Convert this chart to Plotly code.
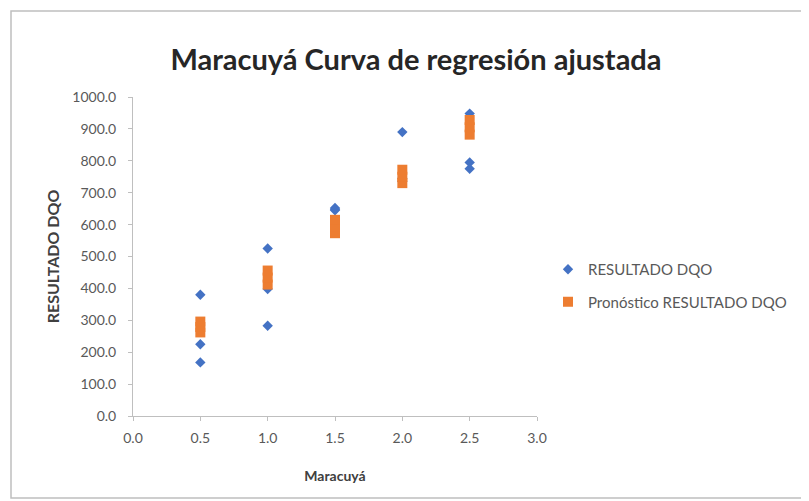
import plotly.graph_objects as go

maracuya_obs = [0.5, 0.5, 0.5, 1.0, 1.0, 1.0, 1.5, 1.5, 1.5, 2.0, 2.0, 2.0, 2.5, 2.5, 2.5]
resultado_dqo = [380, 225, 168, 525, 398, 283, 652, 648, 645, 890, 745, 735, 948, 795, 775]

maracuya_pred = [0.5, 0.5, 0.5, 1.0, 1.0, 1.0, 1.5, 1.5, 1.5, 2.0, 2.0, 2.0, 2.5, 2.5, 2.5]
pronostico_dqo = [262, 279, 296, 412, 434, 456, 573, 594, 615, 730, 750, 772, 882, 905, 928]

x_ticks = [0.0, 0.5, 1.0, 1.5, 2.0, 2.5, 3.0]
y_ticks = [0, 100, 200, 300, 400, 500, 600, 700, 800, 900, 1000]

fig = go.Figure()
fig.add_trace(go.Scatter(
    x=maracuya_obs, y=resultado_dqo, mode="markers", name="RESULTADO DQO",
    legendgroup="a",
    marker=dict(symbol="diamond", size=8, color="#4472C4"),
))
fig.add_trace(go.Scatter(
    x=maracuya_pred, y=pronostico_dqo, mode="markers", name="Pronóstico RESULTADO DQO",
    legendgroup="b",
    marker=dict(symbol="square", size=10, color="#ED7D31"),
))

# figure-pixel geometry (page is rendered with an 8px body offset)
L, R, T, B = 125, 529, 89, 408
W, H = 809, 501
def px_x(p):
    return (p - L) / (R - L)
def px_y(p):
    return (B - p) / (B - T)

fig.add_shape(type="rect", xref="paper", yref="paper",
              x0=px_x(3), x1=px_x(830), y0=px_y(490), y1=px_y(3),
              line=dict(color="#BFBFBF", width=1.5), fillcolor="rgba(0,0,0,0)", layer="below")

FONT = "Lato, Open Sans, sans-serif"
fig.update_layout(
    width=W, height=H,
    margin=dict(l=L, r=W - R, t=T, b=H - B),
    paper_bgcolor="white", plot_bgcolor="white",
    font=dict(family=FONT, color="#595959", size=14),
    title=dict(text="<b>Maracuyá Curva de regresión ajustada</b>",
               x=408 / W, xanchor="center", y=1 - 52 / H, yanchor="middle",
               font=dict(size=29, color="#262626", family=FONT)),
    xaxis=dict(range=[0, 3], tickvals=x_ticks, ticktext=[f"{v:.1f}" for v in x_ticks],
               showgrid=False, zeroline=False, showline=True, linecolor="#BFBFBF", linewidth=1,
               ticks="outside", ticklen=4, tickcolor="#BFBFBF", ticklabelstandoff=5,
               title=dict(text="<b>Maracuyá</b>", font=dict(size=14, color="#404040", family=FONT), standoff=26)),
    yaxis=dict(range=[0, 1000], tickvals=y_ticks, ticktext=[f"{v:.1f}" for v in y_ticks],
               showgrid=False, zeroline=False, showline=True, linecolor="#BFBFBF", linewidth=1,
               ticks="outside", ticklen=4, tickcolor="#BFBFBF", ticklabelstandoff=9,
               title=dict(text="<b>RESULTADO DQO</b>", font=dict(size=16, color="#404040", family=FONT), standoff=8)),
    legend=dict(x=px_x(540), xanchor="left", y=px_y(245), yanchor="top",
                font=dict(size=15, color="#595959", family=FONT), bgcolor="rgba(0,0,0,0)",
                tracegroupgap=10, itemwidth=30),
    showlegend=True,
)

fig.write_html("out.html")
